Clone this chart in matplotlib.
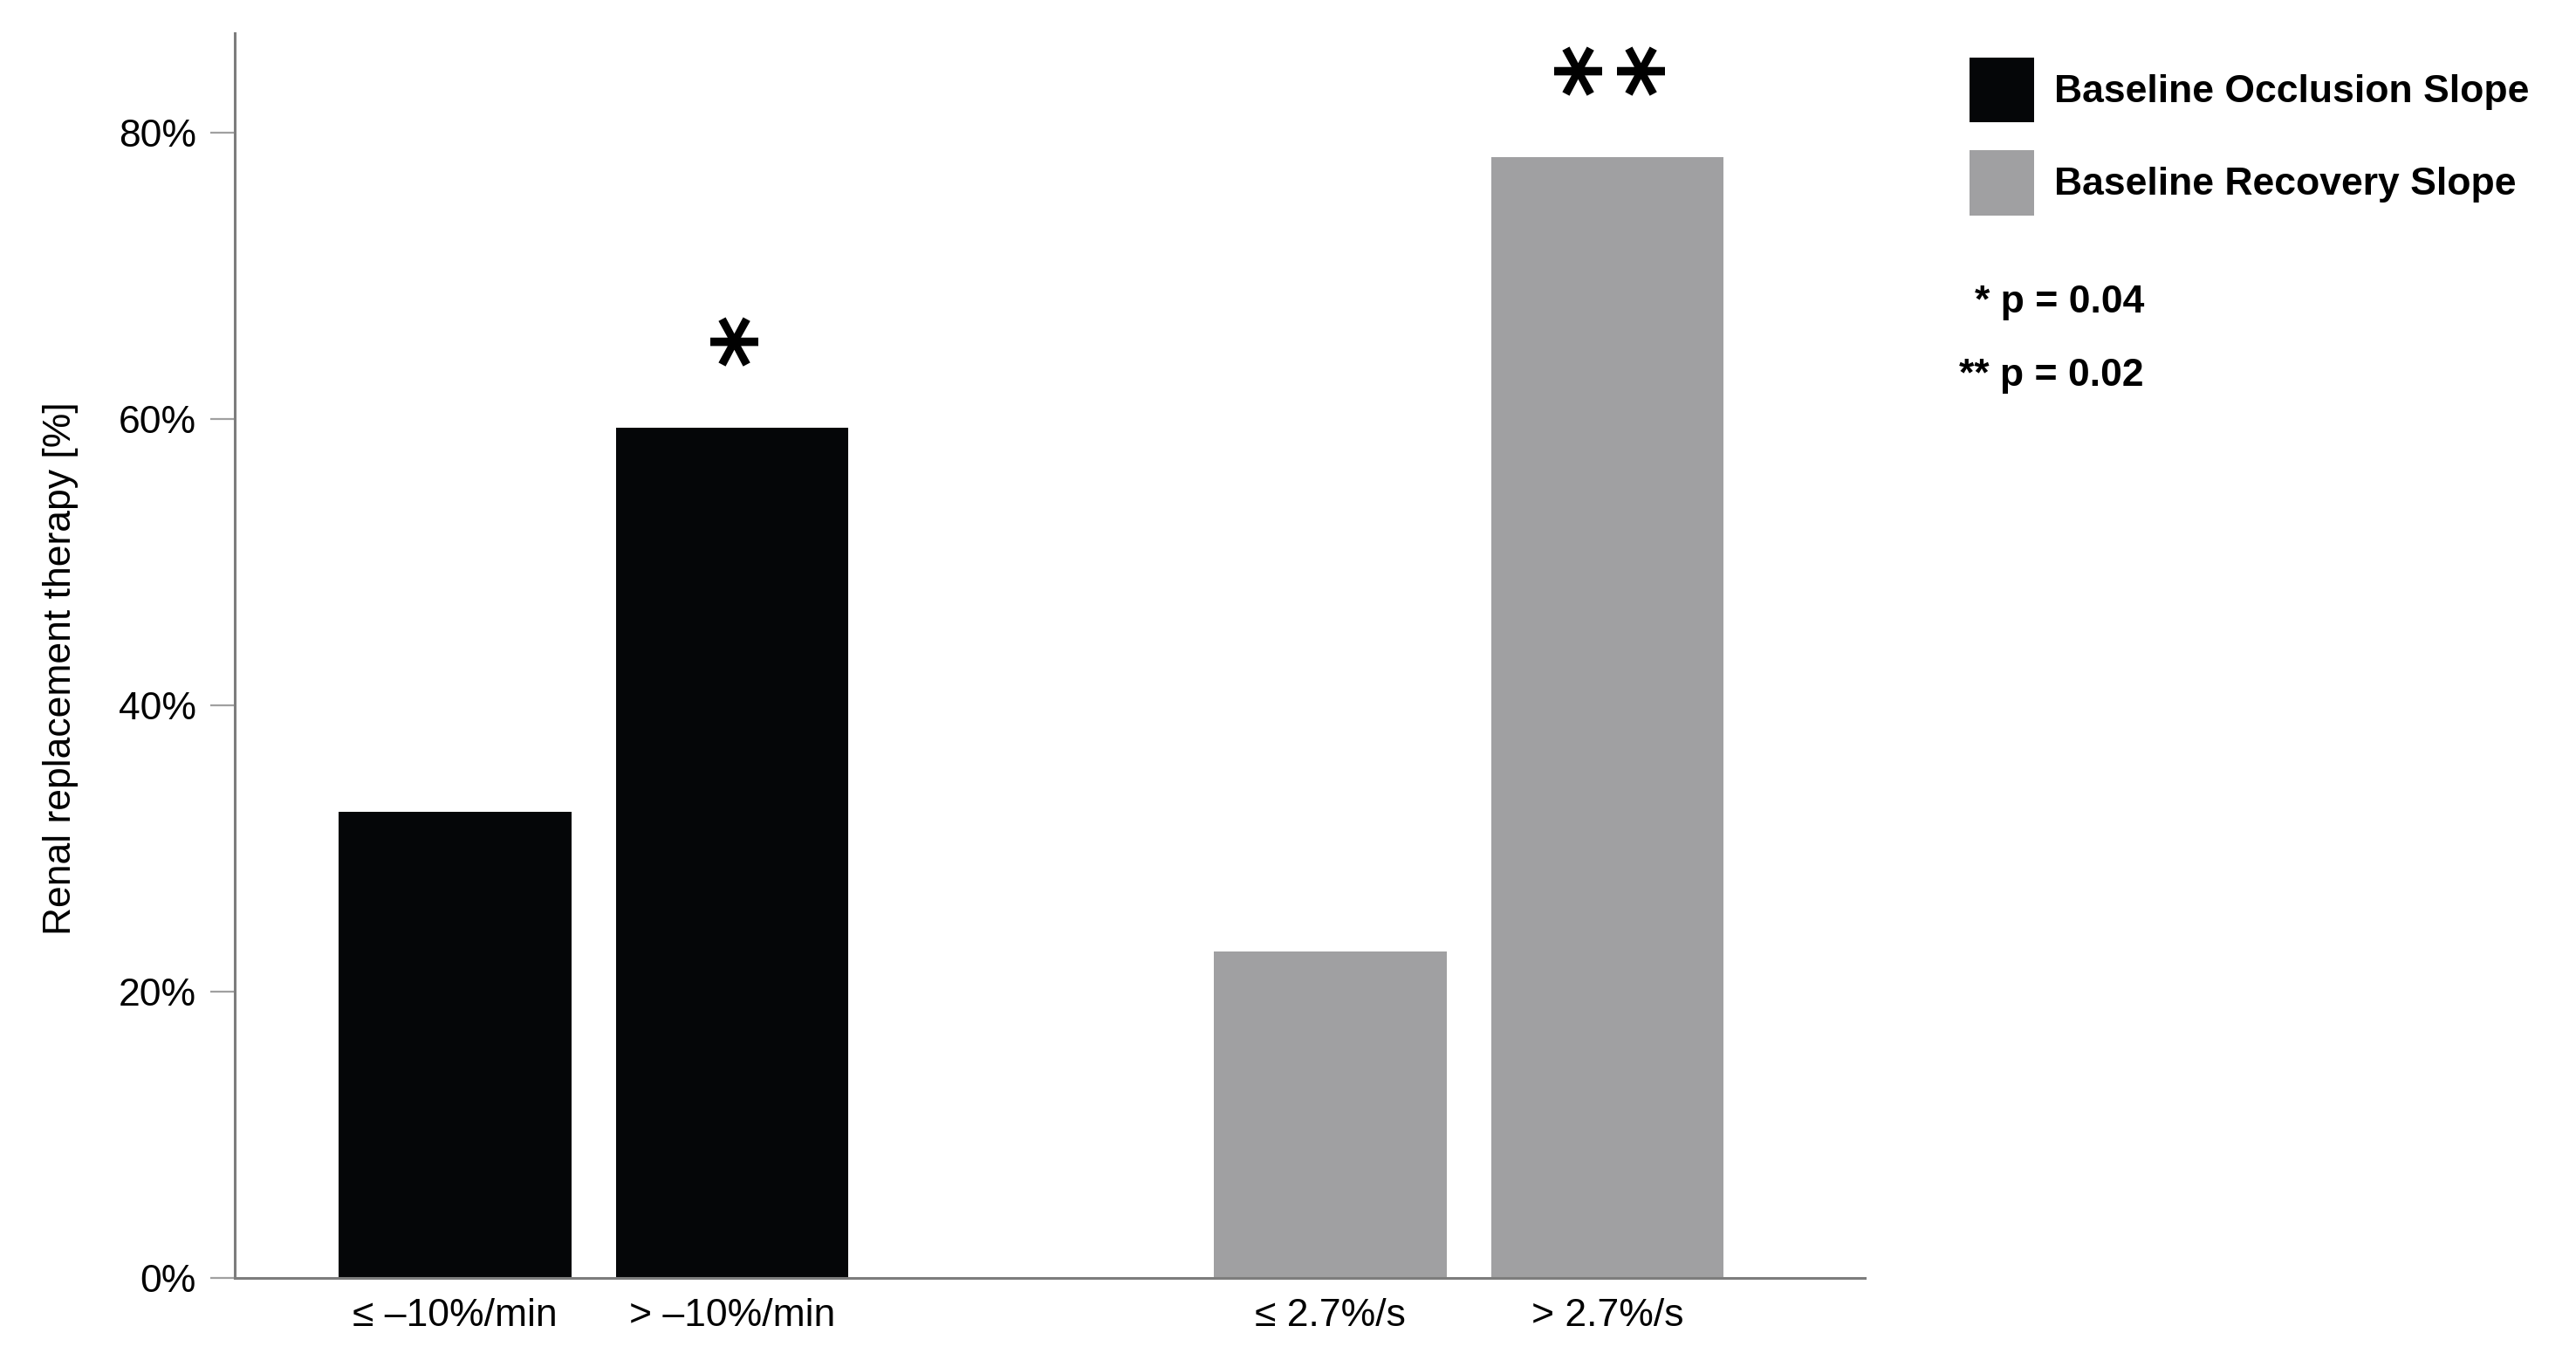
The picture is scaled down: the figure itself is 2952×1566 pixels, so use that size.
import matplotlib
matplotlib.use('Agg')
import matplotlib.pyplot as plt
from matplotlib.patches import Patch

CATEGORIES = ['≤ –10%/min', '> –10%/min', '≤ 2.7%/s', '> 2.7%/s']
RRT_PERCENT = [32.6, 59.4, 22.8, 78.3]
GROUPS = ['Baseline Occlusion Slope', 'Baseline Recovery Slope']
BAR_GROUP = [0, 0, 1, 1]
MARKS = ['', '*', '', '**']
P_NOTES = ['* p = 0.04', '** p = 0.02']
Y_TICKS = [0, 20, 40, 60, 80]

GROUP_COLORS = ['#050608', '#a0a0a2']
GROUP_GAP = 2.16
OUTPUT_IMAGE = 'out.png'

plt.rcParams['font.family'] = ['Liberation Sans', 'DejaVu Sans']


def bar_positions():
    pos = []
    for i, g in enumerate(BAR_GROUP):
        pos.append(i + g * (GROUP_GAP - 1))
    return pos


def draw_marks(ax, x):
    # DejaVu's asterisk turned on its side gives the flat-armed star of the
    # original; one line per star so the stars sit side by side after rotating
    for xi, val, mark in zip(x, RRT_PERCENT, MARKS):
        if not mark:
            continue
        ax.annotate('\n'.join(mark), xy=(xi, val + 6.2), xytext=(10.5, 0),
                    textcoords='offset points', ha='center', va='center',
                    rotation=90, linespacing=0.52, fontsize=42,
                    family='DejaVu Sans', fontweight='bold', color='#000000')


def main():
    fig = plt.figure(figsize=(14.76, 7.83), dpi=200)
    ax = fig.add_axes([0.0912, 0.0649, 0.6327, 0.9111])

    x = bar_positions()
    colors = [GROUP_COLORS[g] for g in BAR_GROUP]
    ax.bar(x, RRT_PERCENT, width=0.84, color=colors, edgecolor='none', zorder=2)
    draw_marks(ax, x)

    ax.set_xlim(-0.795, 5.09)
    ax.set_ylim(0, 87)
    ax.set_xticks(x)
    ax.set_xticklabels(CATEGORIES, fontsize=16)
    ax.set_yticks(Y_TICKS)
    ax.set_yticklabels([f'{t}%' for t in Y_TICKS], fontsize=16)
    ax.tick_params(axis='x', length=0, pad=8)
    ax.tick_params(axis='y', length=10, width=0.8, color='#a0a0a0', pad=6)

    for side in ['top', 'right']:
        ax.spines[side].set_visible(False)
    for side in ['left', 'bottom']:
        ax.spines[side].set_color('#7d7d7d')
        ax.spines[side].set_linewidth(1.1)

    ax.set_ylabel('Renal replacement therapy [%]', fontsize=16)
    ax.yaxis.set_label_coords(-0.096, 0.49)

    handles = [Patch(facecolor=c, edgecolor='none') for c in GROUP_COLORS]
    fig.legend(handles, GROUPS, loc='upper left', bbox_to_anchor=(0.7646, 0.958),
               frameon=False, borderpad=0, borderaxespad=0,
               handlelength=1.67, handleheight=2.19, handletextpad=0.5,
               labelspacing=0.73, prop={'size': 16, 'weight': 'bold'})

    for note, y in zip(P_NOTES, [0.779, 0.725]):
        fig.text(0.8323, y, note, ha='right', va='center', fontsize=16,
                 fontweight='bold')

    fig.savefig(OUTPUT_IMAGE, dpi=200, facecolor='white')


if __name__ == '__main__':
    main()
